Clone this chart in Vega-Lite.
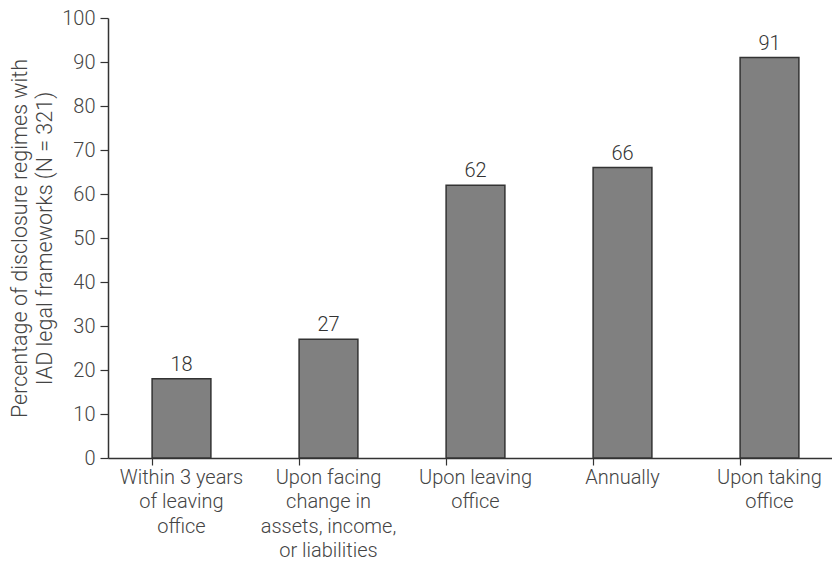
{
  "$schema": "https://vega.github.io/schema/vega-lite/v6.json",
  "autosize": "none",
  "width": 735,
  "height": 440,
  "padding": {"left": 108, "top": 18, "right": 0, "bottom": 105},
  "background": "white",
  "config": {
    "view": {"stroke": null},
    "font": "Roboto",
    "axis": {"grid": false, "domainColor": "#333", "tickColor": "#333", "labelColor": "#444", "titleColor": "#444", "labelFont": "Roboto", "titleFont": "Roboto", "labelFontWeight": 300, "titleFontWeight": 300}
  },
  "data": {
    "values": [
      {"category": "Within 3 years|of leaving|office", "value": 18},
      {"category": "Upon facing|change in|assets, income,|or liabilities", "value": 27},
      {"category": "Upon leaving|office", "value": 62},
      {"category": "Annually", "value": 66},
      {"category": "Upon taking|office", "value": 91}
    ]
  },
  "encoding": {
    "x": {
      "field": "category", "type": "nominal", "sort": null,
      "scale": {"paddingInner": 0.6, "paddingOuter": 0.3},
      "axis": {
        "title": null, "labelAngle": 0, "labelFontSize": 20, "labelLineHeight": 24.5,
        "labelExpr": "split(datum.value, '|')", "bandPosition": 0, "tickSize": 7,
        "labelPadding": 2, "domainWidth": 1.5, "tickWidth": 1.2, "labelBaseline": "top"
      }
    },
    "y": {
      "field": "value", "type": "quantitative",
      "scale": {"domain": [0, 100]},
      "axis": {
        "title": ["Percentage of disclosure regimes with", "IAD legal frameworks (N = 321)"],
        "values": [0, 10, 20, 30, 40, 50, 60, 70, 80, 90, 100],
        "labelFontSize": 20, "titleFontSize": 21.5, "titleLineHeight": 25,
        "tickSize": 8, "labelPadding": 5, "titlePadding": 5, "domainWidth": 1.5, "tickWidth": 1.2
      }
    }
  },
  "layer": [
    {"mark": {"type": "bar", "color": "#808080", "stroke": "#333", "strokeWidth": 1.5}},
    {"mark": {"type": "text", "dy": -14, "fontSize": 20, "fontWeight": 300, "color": "#333", "font": "Roboto"},
     "encoding": {"text": {"field": "value", "type": "quantitative"}}}
  ]
}
